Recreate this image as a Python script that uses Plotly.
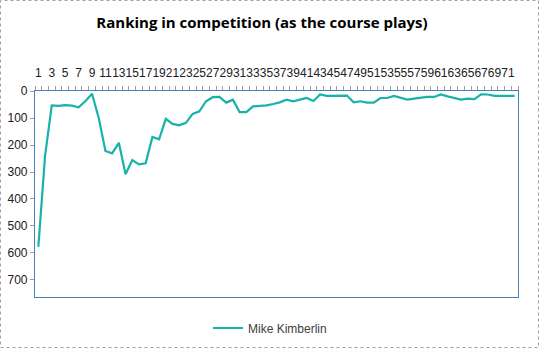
import plotly.graph_objects as go

holes = list(range(1, 73))
ranking = [577, 240, 53, 55, 52, 54, 60, 38, 10, 100,
           222, 231, 192, 308, 256, 272, 268, 170, 179, 103,
           122, 127, 118, 85, 75, 38, 23, 22, 43, 32,
           78, 78, 57, 56, 53, 48, 42, 32, 38, 32,
           26, 37, 13, 18, 18, 16, 17, 42, 38, 43,
           43, 26, 26, 18, 25, 32, 28, 25, 22, 22,
           13, 20, 26, 32, 28, 30, 12, 13, 18, 18,
           18, 18]
tick_vals = list(range(1, 73, 2))
tick_text = [str(v) for v in tick_vals]
y_ticks = [0, 100, 200, 300, 400, 500, 600, 700]

W, H = 539, 348
L, R, T, B = 35, 518, 91, 297
pw, ph = R - L, B - T

fig = go.Figure()
fig.add_trace(go.Scatter(x=holes, y=ranking, mode="lines", name="Mike Kimberlin",
                         line=dict(color="#17b3a9", width=2.2)))

fig.update_layout(
    width=W, height=H,
    margin=dict(l=L, r=W - R, t=T, b=H - B, autoexpand=False),
    paper_bgcolor="white", plot_bgcolor="white",
    font=dict(family="Liberation Sans, Arial, sans-serif", size=12, color="#404040"),
    title=dict(text="<b>Ranking in competition (as the course plays)</b>",
               x=262 / W, xanchor="center", y=1 - 23 / H, yanchor="middle",
               font=dict(size=15, color="#000000", family="Open Sans, Liberation Sans, sans-serif")),
    showlegend=True,
    legend=dict(orientation="h", x=(270 - L) / pw, xanchor="center",
                y=(B - 328) / ph, yanchor="middle",
                font=dict(size=12, color="#404040"), bgcolor="rgba(0,0,0,0)"),
    xaxis=dict(range=[0.5, 72.5], side="top", tickmode="array",
               tickvals=tick_vals, ticktext=tick_text, tickangle=0,
               ticks="", showgrid=False, zeroline=False, automargin=False,
               ticklabelstandoff=8,
               showline=True, linecolor="#4a7ebb", linewidth=1.2, mirror=True,
               tickfont=dict(size=12, color="#202020"),
               minor=dict(tickvals=[i + 0.5 for i in range(0, 73)], ticks="outside",
                          ticklen=4, tickcolor="#a0a0a0", showgrid=False)),
    yaxis=dict(range=[763, 0], tickmode="array", tickvals=y_ticks,
               ticks="outside", ticklen=4, tickcolor="#a0a0a0", automargin=False,
               showgrid=False, zeroline=False,
               showline=True, linecolor="#4a7ebb", linewidth=1.2, mirror=True,
               tickfont=dict(size=12, color="#202020")),
)

fig.add_shape(type="rect", xref="paper", yref="paper",
              x0=(0.5 - L) / pw, x1=(W - 0.5 - L) / pw,
              y0=(B - (H - 0.5)) / ph, y1=(B - 0.5) / ph,
              line=dict(color="#a0a0a0", width=1, dash="dot"), layer="below")

fig.write_html("out.html")
